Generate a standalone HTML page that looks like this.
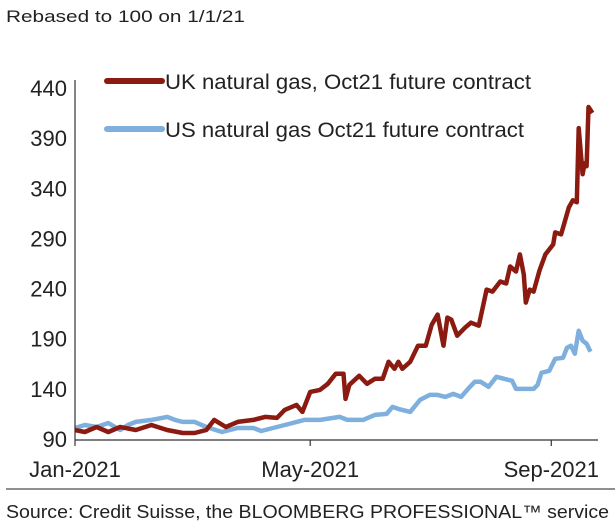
<!DOCTYPE html>
<html><head><meta charset="utf-8"><style>
body{margin:0;background:#fff;}
svg{display:block;font-family:"Liberation Sans",sans-serif;}
</style></head><body>
<svg id="chart" width="615" height="530" viewBox="0 0 615 530">
<text x="6" y="22" font-size="17" fill="#222" textLength="239" lengthAdjust="spacingAndGlyphs">Rebased to 100 on 1/1/21</text>
<g id="yticks"></g>
<g id="xticks"></g>
<g id="series"></g>
<line x1="75" y1="80" x2="75" y2="440" stroke="#333" stroke-width="1.2"/>
<line x1="75" y1="440" x2="598" y2="440" stroke="#333" stroke-width="1.2"/>
<g>
<line x1="107" y1="81" x2="162" y2="81" stroke="#8b1a10" stroke-width="6" stroke-linecap="round"/>
<text x="165" y="89" font-size="21" fill="#222" textLength="366" lengthAdjust="spacingAndGlyphs">UK natural gas, Oct21 future contract</text>
<line x1="107" y1="129" x2="162" y2="129" stroke="#7fb0dd" stroke-width="6" stroke-linecap="round"/>
<text x="165" y="137" font-size="21" fill="#222" textLength="359" lengthAdjust="spacingAndGlyphs">US natural gas Oct21 future contract</text>
</g>
<line x1="6" y1="489" x2="615" y2="489" stroke="#222" stroke-width="1"/>
<text x="6" y="518" font-size="18" fill="#222" textLength="603" lengthAdjust="spacingAndGlyphs">Source: Credit Suisse, the BLOOMBERG PROFESSIONAL™ service</text>
</svg>
<script>
const yTicks=[90,140,190,240,290,340,390,440];
const xTickDays=[0,120,243];
const xTickLabels=["Jan-2021","May-2021","Sep-2021"];
const ukDays=[0,5,11,17,23,31,39,47,55,61,67,71,77,83,91,97,103,107,113,116,120,125,129,133,137,138,140,145,149,153,157,160,163,165,167,171,175,179,182,185,188,190,192,195,199,202,206,210,213,217,220,222,225,227,229,230,232,234,237,240,244,245,248,252,254,256,257,259,260,261,262,264];
const ukValues=[99,97,102,97,102,99,104,99,96,96,99,109,102,107,109,112,111,119,124,117,137,139,145,155,155,130,144,153,145,150,150,167,160,167,160,167,183,183,204,214,183,211,209,193,201,206,203,239,237,247,245,262,257,274,254,226,239,237,258,274,284,296,294,321,328,326,400,354,365,362,421,415];
const usDays=[0,5,11,17,23,27,31,39,47,51,55,61,67,75,83,91,95,103,111,117,125,135,139,147,153,159,162,165,171,176,181,185,189,193,197,201,204,207,211,215,219,223,225,229,234,236,238,242,245,249,251,253,255,257,259,261,263];
const usValues=[101,104,102,106,99,104,107,109,112,109,107,107,102,97,101,101,98,102,106,109,109,112,109,109,114,115,122,120,117,129,134,134,132,135,132,141,147,147,142,152,150,148,140,140,140,144,156,158,170,171,181,183,175,198,188,185,177];
const NS="http://www.w3.org/2000/svg";
const xs=d=>75+d*1.96;
const ys=v=>439-(v-90)*1.003;
const yg=document.getElementById('yticks');
yTicks.forEach(t=>{
  const e=document.createElementNS(NS,'text');
  e.setAttribute('x','67');e.setAttribute('y',ys(t)+8);
  e.setAttribute('text-anchor','end');e.setAttribute('font-size','22');e.setAttribute('fill','#222');
  
  
  e.textContent=t;yg.appendChild(e);
});
const xg=document.getElementById('xticks');
xTickDays.forEach((d,i)=>{
  const l=document.createElementNS(NS,'line');
  l.setAttribute('x1',xs(d));l.setAttribute('x2',xs(d));l.setAttribute('y1','440');l.setAttribute('y2','446');
  l.setAttribute('stroke','#333');l.setAttribute('stroke-width','1.2');
  
  
  xg.appendChild(l);
  const e=document.createElementNS(NS,'text');
  e.setAttribute('x',xs(d));e.setAttribute('y','477');e.setAttribute('text-anchor','middle');
  e.setAttribute('font-size','22');e.setAttribute('fill','#222');
  
  
  e.textContent=xTickLabels[i];xg.appendChild(e);
});
const sg=document.getElementById('series');
function line(days,vals,color,name){
  const p=document.createElementNS(NS,'polyline');
  p.setAttribute('points',days.map((d,i)=>xs(d).toFixed(1)+','+ys(vals[i]).toFixed(1)).join(' '));
  p.setAttribute('fill','none');p.setAttribute('stroke',color);p.setAttribute('stroke-width','4.5');
  p.setAttribute('stroke-linejoin','round');
  
  
  sg.appendChild(p);
}
line(usDays,usValues,'#7fb0dd','us-gas-line');
line(ukDays,ukValues,'#8b1a10','uk-gas-line');
</script>
</body></html>
